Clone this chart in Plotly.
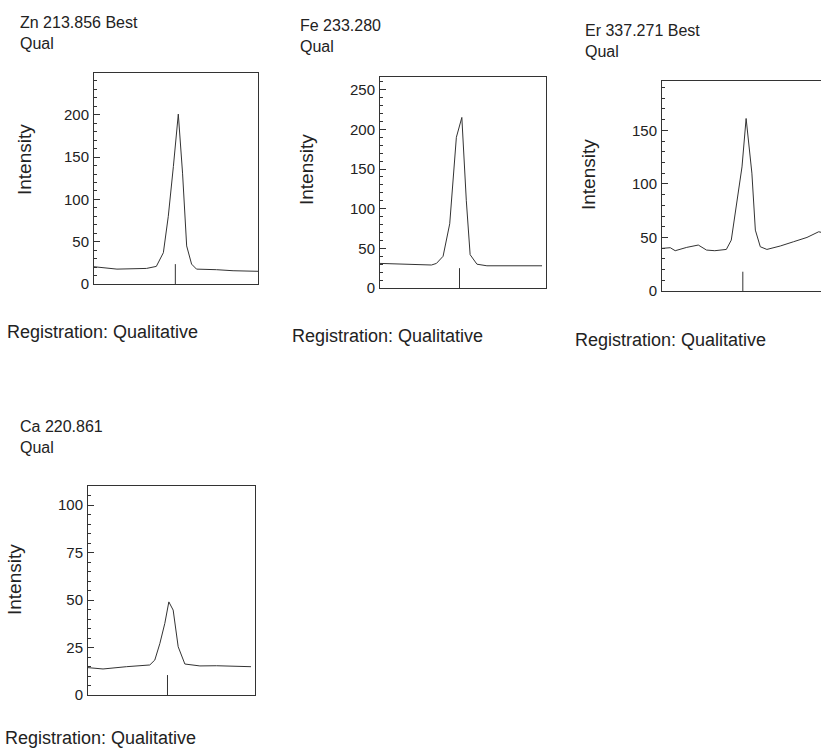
import plotly.graph_objects as go

W, H = 821, 749

# ---------------- data ----------------
zn_x = [0, 3.8, 14, 32, 38, 42.3, 45.3, 48.4, 51.4, 54, 56.5, 59.5, 62.5, 74.7, 84.8, 100]
zn_y = [20.4, 19.6, 17.6, 18.4, 20.8, 37, 80, 139, 200.8, 131, 45, 23.5, 17.6, 16.9, 15.7, 15]

fe_x = [0, 20, 31, 34, 38, 42, 46, 49.3, 52, 54.3, 58.4, 64.4, 97.6]
fe_y = [31, 30, 29, 31, 40, 81, 190, 215, 110, 42, 30, 28, 28]

er_x = [0, 5, 8, 15, 22, 27, 32, 39, 42, 45, 48.5, 51, 54.5, 56.6, 59.6, 63.6, 71.7, 79.8, 87.9, 95, 96.6]
er_y = [39.8, 40.4, 37.6, 40.7, 42.9, 38.2, 37.6, 38.8, 47.5, 78.6, 115.8, 161, 110, 56.8, 41.3, 38.8, 42, 46, 50, 55.3, 54.7]

ca_x = [0, 9, 23, 37, 40, 43, 46, 48.4, 51, 54, 58, 67, 77, 97.6]
ca_y = [14.4, 13.7, 14.9, 15.8, 18.4, 27, 37.7, 49, 44.7, 25.4, 16.3, 15.3, 15.4, 14.9]

# centre (line position) markers: x position and height
marker_x = [49.6, 47.9, 49.0, 47.6]
marker_h = [23.5, 25, 18, 10.5]

titles = ["Zn 213.856 Best", "Fe 233.280", "Er 337.271 Best", "Ca 220.861"]
subtitle = "Qual"
footer = "Registration: Qualitative"
ytitle = "Intensity"

y_max = [250, 266, 196, 110]
y_ticks = [[0, 50, 100, 150, 200], [0, 50, 100, 150, 200, 250], [0, 50, 100, 150], [0, 25, 50, 75, 100]]
y_minor = [10, 10, 10, 5]
x_max = [100, 100, 96.4, 100]

series = [(zn_x, zn_y), (fe_x, fe_y), (er_x, er_y), (ca_x, ca_y)]

# ---------------- layout (pixel boxes) ----------------
boxes = [  # x0, x1, ytop, ybottom in pixels
    (94, 258, 72.5, 284),
    (380, 546, 77, 288),
    (662, 821, 81, 291),
    (88, 255, 486, 695),
]
title_pos = [(18, 22), (298, 26), (583, 30), (18, 427)]
ytitle_pos = [(24, 160), (306, 170), (588, 175), (14, 580)]
footer_pos = [(5, 332), (290, 336), (573, 340), (3, 738)]

FONT = "Liberation Sans, Arial, sans-serif"
INK = "#222222"
LINE = "#333333"

def px(x):
    return x / W

def py(y):
    return 1 - y / H

fig = go.Figure()
layout = dict(
    width=W, height=H,
    margin=dict(l=0, r=0, t=0, b=0, autoexpand=False),
    paper_bgcolor="white", plot_bgcolor="white",
    showlegend=False,
    font=dict(family=FONT, color=INK, size=15),
)
annotations = []

for i, ((sx, sy), box) in enumerate(zip(series, boxes)):
    n = "" if i == 0 else str(i + 1)
    xa, ya = "x" + n, "y" + n
    fig.add_trace(go.Scatter(x=sx, y=sy, mode="lines", xaxis=xa, yaxis=ya,
                             line=dict(color=LINE, width=1), hoverinfo="skip"))
    fig.add_trace(go.Scatter(x=[marker_x[i], marker_x[i]], y=[0, marker_h[i]], mode="lines",
                             xaxis=xa, yaxis=ya, line=dict(color=LINE, width=1), hoverinfo="skip"))
    x0, x1, yt, yb = box
    layout["xaxis" + n] = dict(
        domain=[px(x0), px(x1)], range=[0, x_max[i]], anchor=ya,
        showgrid=False, zeroline=False, showticklabels=False, ticks="",
        showline=True, linecolor=LINE, linewidth=1, mirror=True,
    )
    layout["yaxis" + n] = dict(
        domain=[py(yb), py(yt)], range=[0, y_max[i]], anchor=xa,
        showgrid=False, zeroline=False,
        showline=True, linecolor=LINE, linewidth=1, mirror=(i != 2),
        ticks="inside", ticklen=6, tickcolor=LINE, tickwidth=1,
        tickmode="array", tickvals=y_ticks[i],
        minor=dict(ticks="inside", ticklen=3, dtick=y_minor[i], tick0=0, tickcolor=LINE, showgrid=False),
        tickfont=dict(family=FONT, size=15, color=INK),
        ticklabelstandoff=1,
    )
    tx, ty = title_pos[i]
    annotations.append(dict(text=titles[i], x=px(tx), y=py(ty), xref="paper", yref="paper",
                            xanchor="left", yanchor="middle", showarrow=False,
                            font=dict(size=16, family=FONT, color=INK)))
    annotations.append(dict(text=subtitle, x=px(tx), y=py(ty + 21), xref="paper", yref="paper",
                            xanchor="left", yanchor="middle", showarrow=False,
                            font=dict(size=16, family=FONT, color=INK)))
    yx, yy = ytitle_pos[i]
    annotations.append(dict(text=ytitle, x=px(yx), y=py(yy), xref="paper", yref="paper",
                            xanchor="center", yanchor="middle", showarrow=False, textangle=-90,
                            font=dict(size=19, family=FONT, color=INK)))
    fx, fy = footer_pos[i]
    annotations.append(dict(text=footer, x=px(fx), y=py(fy), xref="paper", yref="paper",
                            xanchor="left", yanchor="middle", showarrow=False,
                            font=dict(size=18, family=FONT, color=INK)))

layout["annotations"] = annotations
fig.update_layout(**layout)
fig.write_html(
    "out.html",
    config={"displayModeBar": False},
    post_script="document.body.style.margin='0';document.documentElement.style.overflow='hidden';document.body.style.overflow='hidden';",
)
